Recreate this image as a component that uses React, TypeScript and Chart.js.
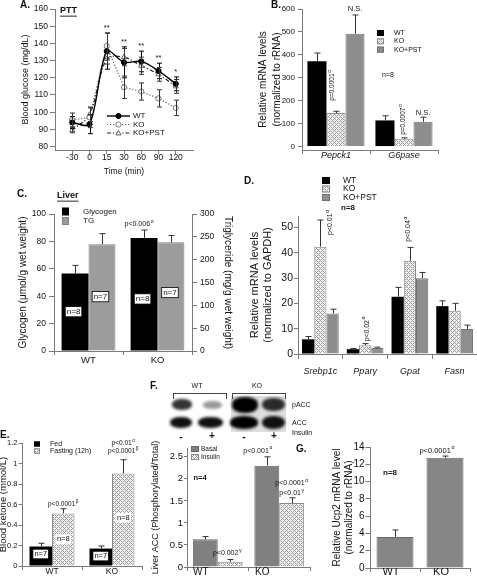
import React, { useEffect, useRef } from 'react';
import { Chart, registerables } from 'chart.js';

Chart.register(...registerables);

const FONT = "'Liberation Sans', Arial, Helvetica, sans-serif";
const AXIS = '#7a7a7a';
const INK = '#111';

// ---------- A. PTT ----------
const timeLabels = ['-30', '0', '15', '30', '60', '90', '120'];
const glucoseTicks = [80, 90, 100, 110, 120, 130, 140, 150, 160];
const wtGlucose = [94, 93, 135.5, 129, 129.5, 124, 116.5];
const wtGlucoseErr = [3.5, 5.5, 10.5, 9, 6, 4.5, 4];
const koGlucose = [95.5, 97, 138.5, 114.5, 112, 108, 102.5];
const koGlucoseErr = [4, 6, 7.5, 6.5, 5, 5, 4.5];
const pstGlucose = [89.5, 98.5, 131, 132, 127, 122, 115];
const pstGlucoseErr = [1.5, 4, 3, 5, 5, 4, 4];
const glucoseStars = ['', '', '**', '**', '**', '**', '*'];

// ---------- B. gluconeogenic mRNA ----------
const mrnaGenes = ['Pepck1', 'G6pase'];
const mrnaTicks = [0, 100, 200, 300, 400, 500, 600];
const wtMrna = [372, 114];
const wtMrnaErr = [36, 20];
const koMrna = [146, 34];
const koMrnaErr = [8, 4];
const pstMrna = [492, 108];
const pstMrnaErr = [82, 20];

// ---------- C. Liver glycogen / TG ----------
const liverGroups = ['WT', 'KO'];
const glycogenTicks = [0, 20, 40, 60, 80, 100];
const tgTicks = [0, 50, 100, 150, 200, 250, 300];
const glycogen = [56.5, 82.5];
const glycogenErr = [6, 5.8];
const triglyceride = [234, 238];
const triglycerideErr = [23, 15];

// ---------- D. lipogenic mRNA ----------
const lipidGenes = ['Srebp1c', 'Pparγ', 'Gpat', 'Fasn'];
const lipidTicks = [0, 10, 20, 30, 40, 50];
const wtLipid = [5.8, 1.9, 22.6, 18.9];
const wtLipidErr = [1.1, 0.3, 3.7, 2.1];
const koLipid = [42.4, 3.5, 36.8, 17.1];
const koLipidErr = [10.5, 0.6, 5.3, 2.9];
const pstLipid = [16, 2.4, 29.9, 9.9];
const pstLipidErr = [1.7, 0.3, 2.3, 1.5];

// ---------- E. Blood ketone ----------
const ketoneGroups = ['WT', 'KO'];
const ketoneTicks = [0, 0.2, 0.4, 0.6, 0.8, 1, 1.2];
const fedKetone = [0.19, 0.17];
const fedKetoneErr = [0.032, 0.025];
const fastKetone = [0.513, 0.902];
const fastKetoneErr = [0.045, 0.135];

// ---------- F. Liver ACC ----------
const accGroups = ['WT', 'KO'];
const accTicks = [0, 0.5, 1, 1.5, 2, 2.5];
const basalAcc = [0.63, 2.3];
const basalAccErr = [0.06, 0.2];
const insulinAcc = [0.12, 1.45];
const insulinAccErr = [0.05, 0.12];

// ---------- G. Ucp2 ----------
const ucpGroups = ['WT', 'KO'];
const ucpTicks = [0, 2, 4, 6, 8, 10, 12, 14];
const ucp2 = [3.6, 12.75];
const ucp2Err = [0.8, 0.2];

type Note = {
  text: string; sup?: string; ds?: number; i?: number; v?: number; xv?: number;
  dx?: number; dy?: number; px?: number; py?: number; rot?: number;
  align?: 'left' | 'center' | 'right'; size?: number; bold?: boolean; italic?: boolean;
  box?: boolean; border?: boolean; underline?: boolean; color?: string;
};
type LegendCfg = { kind: 'box' | 'line'; x: number; y: number; w: number; h: number; step: number; tx: number; size: number; items: number[] };

function fontStr(size: number, bold?: boolean, italic?: boolean) {
  return `${italic ? 'italic ' : ''}${bold ? 'bold ' : ''}${size}px ${FONT}`;
}

function makeHatch(): CanvasPattern | string {
  const c = document.createElement('canvas');
  c.width = 4; c.height = 4;
  const g = c.getContext('2d');
  if (!g) return '#d0d0d0';
  g.fillStyle = '#f4f4f4';
  g.fillRect(0, 0, 4, 4);
  g.fillStyle = '#9a9a9a';
  for (let x = 0; x < 4; x++) for (let y = 0; y < 4; y++) {
    if ((x + y) % 4 === 0 || (x - y + 4) % 4 === 0) g.fillRect(x, y, 1, 1);
  }
  return g.createPattern(c, 'repeat') || '#d0d0d0';
}

function drawErrors(chart: any) {
  const ctx: CanvasRenderingContext2D = chart.ctx;
  chart.data.datasets.forEach((ds: any, di: number) => {
    if (!ds.errors) return;
    const meta = chart.getDatasetMeta(di);
    const ys = chart.scales[meta.yAxisID];
    ctx.save();
    ctx.strokeStyle = ds.errorColor || '#333';
    ctx.lineWidth = 1;
    meta.data.forEach((el: any, i: number) => {
      const d = ds.data[i];
      const val = typeof d === 'number' ? d : d.y;
      const e = ds.errors[i];
      if (!e) return;
      const x = Math.round(el.x) + 0.5;
      const yT = ys.getPixelForValue(val + e);
      const y0 = ds.errorBoth ? ys.getPixelForValue(val - e) : ys.getPixelForValue(val);
      const cw = ds.capWidth ?? 3;
      ctx.beginPath();
      ctx.moveTo(x, y0); ctx.lineTo(x, yT);
      ctx.moveTo(x - cw, yT); ctx.lineTo(x + cw, yT);
      if (ds.errorBoth) { ctx.moveTo(x - cw, y0); ctx.lineTo(x + cw, y0); }
      ctx.stroke();
    });
    ctx.restore();
  });
}

function drawNote(chart: any, n: Note) {
  const ctx: CanvasRenderingContext2D = chart.ctx;
  let x = n.px ?? 0;
  let y = n.py ?? 0;
  if (n.ds !== undefined && n.i !== undefined) {
    const meta = chart.getDatasetMeta(n.ds);
    x = meta.data[n.i].x;
    y = chart.scales[meta.yAxisID].getPixelForValue(n.v);
  } else if (n.xv !== undefined) {
    x = chart.scales.x.getPixelForValue(n.xv);
    y = chart.scales.y.getPixelForValue(n.v);
  }
  x += n.dx ?? 0;
  y += n.dy ?? 0;
  const size = n.size ?? 7;
  ctx.save();
  ctx.translate(x, y);
  if (n.rot) ctx.rotate((n.rot * Math.PI) / 180);
  ctx.font = fontStr(size, n.bold, n.italic);
  const wMain = ctx.measureText(n.text).width;
  const supSize = size * 0.72;
  let wSup = 0;
  if (n.sup) { ctx.font = fontStr(supSize); wSup = ctx.measureText(n.sup).width + 0.6; }
  const total = wMain + wSup;
  const align = n.align ?? 'center';
  const sx = align === 'left' ? 0 : align === 'right' ? -total : -total / 2;
  if (n.box) {
    const bx = sx - 1.5, by = -size * 0.64, bw = total + 3, bh = size * 1.28;
    ctx.fillStyle = '#fff';
    ctx.fillRect(bx, by, bw, bh);
    if (n.border) { ctx.strokeStyle = '#000'; ctx.lineWidth = 0.8; ctx.strokeRect(bx, by, bw, bh); }
  }
  ctx.fillStyle = n.color ?? INK;
  ctx.textBaseline = 'middle';
  ctx.textAlign = 'left';
  ctx.font = fontStr(size, n.bold, n.italic);
  ctx.fillText(n.text, sx, 0);
  if (n.underline) ctx.fillRect(sx, size * 0.52, wMain, 0.9);
  if (n.sup) { ctx.font = fontStr(supSize); ctx.fillText(n.sup, sx + wMain + 0.6, -size * 0.38); }
  ctx.restore();
}

function drawLegend(chart: any, L: LegendCfg) {
  const ctx: CanvasRenderingContext2D = chart.ctx;
  L.items.forEach((di, k) => {
    const ds = chart.data.datasets[di];
    const cy = L.y + k * L.step;
    ctx.save();
    if (L.kind === 'line') {
      ctx.strokeStyle = ds.borderColor;
      ctx.lineWidth = ds.borderWidth;
      ctx.setLineDash(ds.borderDash || []);
      ctx.beginPath(); ctx.moveTo(L.x, cy); ctx.lineTo(L.x + L.w, cy); ctx.stroke();
      ctx.setLineDash([]);
      const mx = L.x + L.w / 2, r = 2.6;
      ctx.fillStyle = ds.pointBackgroundColor;
      ctx.strokeStyle = ds.pointBorderColor;
      ctx.lineWidth = 1;
      ctx.beginPath();
      if (ds.pointStyle === 'triangle') {
        ctx.moveTo(mx, cy - r); ctx.lineTo(mx + r, cy + r * 0.75); ctx.lineTo(mx - r, cy + r * 0.75); ctx.closePath();
      } else {
        ctx.arc(mx, cy, r, 0, Math.PI * 2);
      }
      ctx.fill(); ctx.stroke();
    } else {
      ctx.fillStyle = ds.backgroundColor;
      ctx.fillRect(L.x, cy - L.h / 2, L.w, L.h);
      if (ds.borderWidth) {
        ctx.strokeStyle = ds.borderColor; ctx.lineWidth = 1;
        ctx.strokeRect(L.x + 0.5, cy - L.h / 2 + 0.5, L.w - 1, L.h - 1);
      }
    }
    ctx.fillStyle = INK;
    ctx.font = fontStr(L.size);
    ctx.textBaseline = 'middle';
    ctx.textAlign = 'left';
    ctx.fillText(ds.label, L.tx, cy);
    ctx.restore();
  });
}

function extras(notes: Note[], legend?: LegendCfg) {
  return {
    id: 'extras',
    afterDatasetsDraw(chart: any) { drawErrors(chart); },
    afterDraw(chart: any) {
      if (legend) drawLegend(chart, legend);
      notes.forEach((n) => drawNote(chart, n));
    },
  };
}

function yLin(o: any) {
  return {
    type: 'linear', position: o.pos || 'left', min: o.min, max: o.max,
    afterBuildTicks: (s: any) => { s.ticks = o.ticks.map((v: number) => ({ value: v })); },
    afterFit: (s: any) => { s.width = o.w; },
    grid: { drawOnChartArea: false, tickLength: o.tl, color: AXIS, tickColor: AXIS, lineWidth: 1 },
    border: { color: AXIS, width: 1 },
    ticks: { font: { family: FONT, size: o.fs }, color: INK, padding: o.pad, callback: (v: number) => String(v) },
    title: o.title
      ? { display: true, text: o.title, color: INK, font: { family: FONT, size: o.ts, lineHeight: o.tlh || 1.2 }, padding: { top: o.tp || 0, bottom: 0 } }
      : { display: false },
  };
}

function xCat(o: any) {
  return {
    type: 'category', offset: true,
    afterFit: (s: any) => { s.height = o.h; },
    grid: { offset: true, drawOnChartArea: false, tickLength: o.tl, color: AXIS, tickColor: AXIS },
    border: { color: AXIS, width: 1 },
    ticks: {
      font: { family: FONT, size: o.fs, style: o.italic ? 'italic' : 'normal' },
      color: INK, padding: o.pad, labelOffset: o.lo || 0, maxRotation: 0, minRotation: 0, autoSkip: false,
    },
  };
}

function base(padding: any, scales: any) {
  return {
    responsive: false, animation: false, events: [],
    layout: { padding },
    plugins: { legend: { display: false }, tooltip: { enabled: false }, title: { display: false } },
    scales,
  };
}

const barDs = (label: string, data: number[], errors: number[], fill: any, border: string | null, cp: number, extra: any = {}) => ({
  label, data, errors, backgroundColor: fill,
  borderColor: border || 'rgba(0,0,0,0)', borderWidth: border ? 1 : 0,
  barPercentage: 1, categoryPercentage: cp, errorColor: '#333', capWidth: 3, ...extra,
});

// ---------- builders ----------
function buildA() {
  const pts = (arr: number[]) => arr.map((y, i) => ({ x: i + 1, y }));
  const stars: Note[] = [];
  glucoseStars.forEach((s, i) => {
    if (!s) return;
    const top = Math.max(wtGlucose[i] + wtGlucoseErr[i], koGlucose[i] + koGlucoseErr[i], pstGlucose[i] + pstGlucoseErr[i]);
    stars.push({ text: s, xv: i + 1, v: top + 3, size: 7.5 });
  });
  return {
    type: 'line',
    data: {
      datasets: [
        { label: 'WT', data: pts(wtGlucose), errors: wtGlucoseErr, errorBoth: true, errorColor: '#000', capWidth: 2.5,
          borderColor: '#000', borderWidth: 1.4, tension: 0.3, pointStyle: 'circle', pointRadius: 2.6,
          pointBackgroundColor: '#000', pointBorderColor: '#000', pointBorderWidth: 1 },
        { label: 'KO', data: pts(koGlucose), errors: koGlucoseErr, errorBoth: true, errorColor: '#333', capWidth: 2.5,
          borderColor: '#666', borderWidth: 1.2, borderDash: [1.2, 1.8], tension: 0, pointStyle: 'circle', pointRadius: 2.6,
          pointBackgroundColor: '#fff', pointBorderColor: '#777', pointBorderWidth: 1 },
        { label: 'KO+PST', data: pts(pstGlucose), errors: pstGlucoseErr, errorBoth: true, errorColor: '#333', capWidth: 2.5,
          borderColor: '#222', borderWidth: 1.2, borderDash: [4, 2, 1.2, 2], tension: 0.3, pointStyle: 'triangle', pointRadius: 3,
          pointBackgroundColor: '#fff', pointBorderColor: '#666', pointBorderWidth: 1 },
      ],
    },
    options: base({ left: 20, right: 284, top: 9, bottom: 580 - 150 - 27 }, {
      x: {
        type: 'linear', min: 0, max: 8,
        afterBuildTicks: (s: any) => { s.ticks = timeLabels.map((_, i) => ({ value: i + 1 })); },
        afterFit: (s: any) => { s.height = 27; },
        grid: { drawOnChartArea: false, tickLength: 4, color: AXIS, tickColor: AXIS },
        border: { color: AXIS, width: 1 },
        ticks: { font: { family: FONT, size: 8.5 }, color: INK, padding: -1, maxRotation: 0, autoSkip: false,
          callback: (v: number) => timeLabels[v - 1] ?? '' },
        title: { display: true, text: 'Time (min)', color: INK, font: { family: FONT, size: 8.5 }, padding: 0 },
      },
      y: yLin({ min: 78, max: 160, ticks: glucoseTicks, w: 35, tl: 5, pad: 2, fs: 8.5, title: 'Blood glucose (mg/dL)', ts: 9 }),
    }),
    plugins: [extras([
      { px: 20, py: 5, text: 'A.', size: 10, bold: true, align: 'left' },
      { px: 60, py: 11, text: 'PTT', size: 9, bold: true, underline: true, align: 'left' },
      ...stars,
    ], { kind: 'line', x: 107, y: 116, w: 23, h: 0, step: 8.5, tx: 133, size: 8, items: [0, 1, 2] })],
  };
}

function buildB(hatch: any) {
  return {
    type: 'bar',
    data: {
      labels: mrnaGenes,
      datasets: [
        barDs('WT', wtMrna, wtMrnaErr, '#000', null, 0.84),
        barDs('KO', koMrna, koMrnaErr, hatch, '#8a8a8a', 0.84),
        barDs('KO+PST', pstMrna, pstMrnaErr, '#8e8e8e', '#707070', 0.84),
      ],
    },
    options: base({ left: 256, right: 39, top: 9, bottom: 580 - 150 - 16 }, {
      x: xCat({ h: 16, tl: 4, pad: -4, fs: 9, italic: true }),
      y: yLin({ min: -15, max: 600, ticks: mrnaTicks, w: 46, tl: 4, pad: 3, fs: 8,
        title: ['Relative mRNA levels', '(normalized to rRNA)'], ts: 10, tlh: 1.4 }),
    }),
    plugins: [extras([
      { px: 271, py: 5, text: 'B.', size: 10, bold: true, align: 'left' },
      { ds: 2, i: 0, v: 600, text: 'N.S.', size: 7.5 },
      { ds: 2, i: 1, v: 148, text: 'N.S.', size: 7.5 },
      { ds: 1, i: 0, v: 200, dx: -4, rot: -90, align: 'left', text: 'p=0.0001', sup: 'α', size: 6.5 },
      { ds: 1, i: 1, v: 51, dx: -1, rot: -90, align: 'left', text: 'p=0.0007', sup: 'α', size: 6.5 },
      { px: 388, py: 75, text: 'n=8', size: 7 },
    ], { kind: 'box', x: 377, y: 33, w: 7, h: 6, step: 8.3, tx: 394, size: 7, items: [0, 1, 2] })],
  };
}

function buildC() {
  return {
    type: 'bar',
    data: {
      labels: liverGroups,
      datasets: [
        { ...barDs('Glycogen', glycogen, glycogenErr, '#000', null, 0.78), yAxisID: 'y' },
        { ...barDs('TG', triglyceride, triglycerideErr, '#9c9c9c', '#808080', 0.78), yAxisID: 'y1' },
      ],
    },
    options: base({ left: 17, right: 243, top: 214, bottom: 209 }, {
      x: xCat({ h: 20, tl: 4, pad: 0, fs: 9.5 }),
      y: yLin({ min: 0, max: 100, ticks: glycogenTicks, w: 37, tl: 5, pad: 3, fs: 8.5, title: 'Glycogen (μmol/g wet weight)', ts: 10 }),
      y1: yLin({ pos: 'right', min: 0, max: 300, ticks: tgTicks, w: 42, tl: 5, pad: 3, fs: 8.5, title: 'Triglyceride (mg/g wet weight)', ts: 10 }),
    }),
    plugins: [extras([
      { px: 17, py: 194, text: 'C.', size: 10, bold: true, align: 'left' },
      { px: 57, py: 196, text: 'Liver', size: 9, bold: true, underline: true, align: 'left' },
      { ds: 0, i: 0, v: 28.7, dx: -1.5, text: 'n=8', size: 8, box: true, border: true },
      { ds: 1, i: 0, v: 119, dx: -1.5, text: 'n=7', size: 8, box: true, border: true },
      { ds: 0, i: 1, v: 38, dx: -1.5, text: 'n=8', size: 8, box: true, border: true },
      { ds: 1, i: 1, v: 128, dx: -1, text: 'n=7', size: 8, box: true, border: true },
      { ds: 0, i: 1, v: 92.5, dx: -5, text: 'p<0.006', sup: 'α', size: 7 },
    ], { kind: 'box', x: 62, y: 211.5, w: 7, h: 8, step: 9.5, tx: 83, size: 8, items: [0, 1] })],
  };
}

function buildD(hatch: any) {
  return {
    type: 'bar',
    data: {
      labels: lipidGenes,
      datasets: [
        barDs('WT', wtLipid, wtLipidErr, '#000', null, 0.82),
        barDs('KO', koLipid, koLipidErr, hatch, '#8a8a8a', 0.82),
        barDs('KO+PST', pstLipid, pstLipidErr, '#8e8e8e', '#707070', 0.82),
      ],
    },
    options: base({ left: 248, right: 0, top: 216, bottom: 200 }, {
      x: xCat({ h: 26, tl: 5, pad: 7, fs: 9, italic: true }),
      y: yLin({ min: 0, max: 54.5, ticks: lipidTicks, w: 50, tl: 4, pad: 1, fs: 10.5,
        title: ['Relative mRNA levels', '(normalized to GAPDH)'], ts: 11 }),
    }),
    plugins: [extras([
      { px: 244, py: 181.5, text: 'D.', size: 10, bold: true, align: 'left' },
      { px: 348, py: 208, text: 'n=8', size: 8, bold: true },
      { ds: 1, i: 0, v: 47, dx: 10, rot: -90, align: 'left', text: 'p<0.01', sup: 'α', size: 7 },
      { ds: 1, i: 1, v: 4.9, dx: 1.5, rot: -90, align: 'left', text: 'p<0.02', sup: 'α', size: 7 },
      { ds: 1, i: 2, v: 44.3, dx: -1.5, rot: -90, align: 'left', text: 'p<0.04', sup: 'α', size: 7 },
    ], { kind: 'box', x: 322, y: 180.5, w: 8, h: 7, step: 8.5, tx: 343, size: 8.5, items: [0, 1, 2] })],
  };
}

function buildE(hatch: any) {
  return {
    type: 'bar',
    data: {
      labels: ketoneGroups,
      datasets: [
        barDs('Fed', fedKetone, fedKetoneErr, '#000', null, 0.75),
        barDs('Fasting (12h)', fastKetone, fastKetoneErr, hatch, '#8a8a8a', 0.75),
      ],
    },
    options: base({ left: 0, right: 335, top: 443, bottom: 0 }, {
      x: xCat({ h: 14, tl: 4, pad: -3, fs: 8.5 }),
      y: yLin({ min: 0, max: 1.2, ticks: ketoneTicks, w: 22, tl: 3.5, pad: 1, fs: 7.5, title: 'Blood ketone (mmol/L)', ts: 9.5, tp: -2 }),
    }),
    plugins: [extras([
      { px: 0, py: 435, text: 'E.', size: 10, bold: true, align: 'left' },
      { ds: 0, i: 0, v: 0.117, text: 'n=7', size: 7.5, box: true, border: true },
      { ds: 1, i: 0, v: 0.26, text: 'n=8', size: 7.5, box: true },
      { ds: 0, i: 1, v: 0.097, text: 'n=7', size: 7.5, box: true, border: true },
      { ds: 1, i: 1, v: 0.47, text: 'n=8', size: 7.5, box: true },
      { ds: 1, i: 0, v: 0.6, text: 'p<0.0001', sup: 'β', size: 6.5 },
      { ds: 1, i: 1, v: 1.2, text: 'p<0.01', sup: 'α', size: 6.5 },
      { ds: 1, i: 1, v: 1.12, text: 'p<0.0001', sup: 'β', size: 6.5 },
    ], { kind: 'box', x: 34, y: 444, w: 6, h: 5.5, step: 7, tx: 50, size: 7, items: [0, 1] })],
  };
}

function buildF(hatch: any) {
  return {
    type: 'bar',
    data: {
      labels: accGroups,
      datasets: [
        barDs('Basal', basalAcc, basalAccErr, '#808080', '#666', 0.81),
        barDs('Insulin', insulinAcc, insulinAccErr, hatch, '#8a8a8a', 0.81),
      ],
    },
    options: base({ left: 150, right: 167, top: 448, bottom: 0 }, {
      x: xCat({ h: 13, tl: 4, pad: -5, fs: 10, lo: -17 }),
      y: yLin({ min: 0, max: 2.7, ticks: accTicks, w: 37, tl: 3, pad: 1, fs: 9.5, title: 'Liver ACC (Phosphorylated/Total)', ts: 9 }),
    }),
    plugins: [extras([
      { px: 150, py: 386, text: 'F.', size: 10, bold: true, align: 'left' },
      { px: 197, py: 386, text: 'WT', size: 7 },
      { px: 257, py: 386, text: 'KO', size: 7 },
      { px: 292, py: 405, text: 'pACC', size: 7, align: 'left' },
      { px: 292, py: 423, text: 'ACC', size: 7, align: 'left' },
      { px: 292, py: 433, text: 'Insulin', size: 7, align: 'left' },
      { px: 181, py: 437, text: '-', size: 10, bold: true },
      { px: 212, py: 436, text: '+', size: 10, bold: true },
      { px: 244, py: 437, text: '-', size: 10, bold: true },
      { px: 274, py: 436, text: '+', size: 10, bold: true },
      { px: 200, py: 478, text: 'n=4', size: 7.5, bold: true },
      { ds: 0, i: 1, v: 2.64, dx: -9, text: 'p<0.001', sup: 'α', size: 7 },
      { ds: 1, i: 1, v: 1.91, text: 'p<0.0001', sup: 'α', size: 7 },
      { ds: 1, i: 1, v: 1.68, text: 'p<0.01', sup: 'γ', size: 7 },
      { ds: 1, i: 0, v: 0.31, dx: -3, text: 'p<0.002', sup: 'γ', size: 7 },
    ], { kind: 'box', x: 191, y: 449, w: 8, h: 6, step: 8, tx: 201, size: 6.5, items: [0, 1] })],
  };
}

function buildG() {
  return {
    type: 'bar',
    data: {
      labels: ucpGroups,
      datasets: [barDs('Ucp2', ucp2, ucp2Err, '#868686', '#6a6a6a', 0.74)],
    },
    options: base({ left: 331, right: 7, top: 447, bottom: 0 }, {
      x: xCat({ h: 12, tl: 4, pad: -7, fs: 11, lo: -4 }),
      y: yLin({ min: 0, max: 14, ticks: ucpTicks, w: 39, tl: 4.5, pad: 1, fs: 10,
        title: ['Relative Ucp2 mRNA level', '(normalized to rRNA)'], ts: 10, tlh: 1.23 }),
    }),
    plugins: [extras([
      { px: 296, py: 449, text: 'G.', size: 10, bold: true, align: 'left' },
      { px: 390, py: 473, text: 'n=8', size: 8, bold: true },
      { ds: 0, i: 1, v: 13.6, dx: -8, text: 'p<0.0001', sup: 'α', size: 7.5 },
    ])],
  };
}

const builders: ((hatch: any) => any)[] = [buildA, buildB, buildC, buildD, buildE, buildF, buildG];

function ChartLayer({ build }: { build: (hatch: any) => any }) {
  const ref = useRef<HTMLCanvasElement>(null);
  useEffect(() => {
    const c = ref.current;
    if (!c) return;
    const chart = new Chart(c, build(makeHatch()));
    return () => chart.destroy();
  }, [build]);
  return (
    <canvas ref={ref} width={477} height={580}
      style={{ position: 'absolute', left: 0, top: 0, width: 477, height: 580 }} />
  );
}

function Blot() {
  const band = (l: number, t: number, w: number, h: number, c: string, blur = 1.4) => (
    <div style={{ position: 'absolute', left: l, top: t, width: w, height: h, background: c, borderRadius: '45%', filter: `blur(${blur}px)` }} />
  );
  return (
    <>
      <div style={{ position: 'absolute', left: 231, top: 396, width: 55, height: 36, background: '#dedede' }} />
      <div style={{ position: 'absolute', left: 173, top: 393, width: 52, height: 5, border: '1px solid #444', borderBottom: 'none' }} />
      <div style={{ position: 'absolute', left: 232, top: 393, width: 52, height: 5, border: '1px solid #444', borderBottom: 'none' }} />
      {band(172, 399, 20, 11, '#333')}
      {band(203, 401, 19, 8, '#9a9a9a')}
      {band(232, 397, 26, 16, '#000')}
      {band(262, 398, 23, 13, '#2a2a2a')}
      {band(170, 417, 22, 11, '#111')}
      {band(198, 417, 25, 11, '#111')}
      {band(230, 416, 28, 13, '#000')}
      {band(262, 416, 23, 13, '#111')}
    </>
  );
}

export default function App() {
  return (
    <div style={{ position: 'fixed', left: 0, top: 0, width: 477, height: 580, background: '#fff', overflow: 'hidden' }}>
      <Blot />
      {builders.map((b, i) => <ChartLayer key={i} build={b} />)}
    </div>
  );
}
